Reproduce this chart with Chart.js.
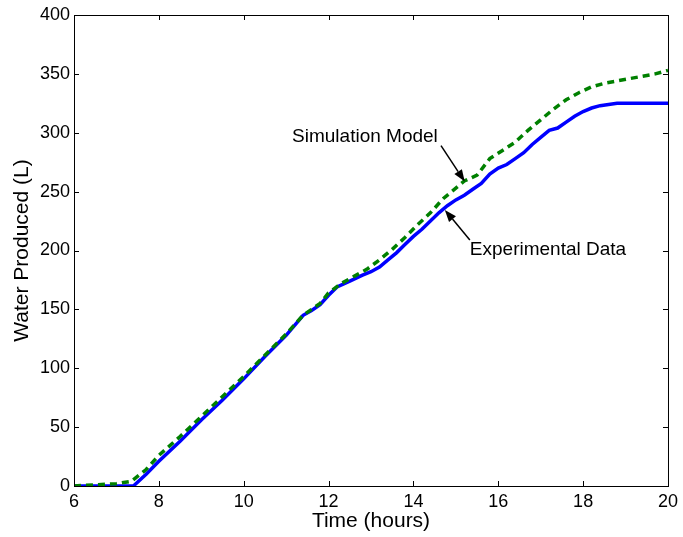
<!DOCTYPE html>
<html>
<head>
<meta charset="utf-8">
<script src="https://cdn.jsdelivr.net/npm/chart.js@4.4.1/dist/chart.umd.min.js"></script>
<style>
html,body{margin:0;padding:0;background:#fff;}
#wrap{width:683px;height:537px;}
</style>
</head>
<body>
<div id="wrap"><canvas id="waterChart" width="683" height="537"></canvas></div>
<script>
// experimental measurements (hours, litres)
const expTime = [6, 7.4, 7.7, 8, 8.5, 9, 9.5, 10, 10.5, 11, 11.4, 11.6, 11.8, 12, 12.2, 12.5, 12.8, 13, 13.2, 13.4, 13.6, 13.8, 14, 14.2, 14.4, 14.6, 14.8, 15, 15.2, 15.4, 15.6, 15.8, 16, 16.2, 16.4, 16.6, 16.8, 17, 17.2, 17.4, 17.6, 17.8, 18, 18.2, 18.4, 18.6, 18.8, 19, 19.5, 20];
const expWater = [0, 0, 10, 21, 38, 56, 73, 91, 110, 128, 145, 149, 154, 162, 169, 174, 179, 182, 186, 192, 198, 205, 212, 218, 225, 232, 238, 243, 247, 252, 257, 265, 270, 273, 278, 283, 290, 296, 302, 304, 309, 314, 318, 321, 323, 324, 325, 325, 325, 325];

// simulation model
const simTime = [6, 6.5, 7, 7.35, 7.7, 8, 8.5, 9, 9.5, 10, 10.5, 11, 11.4, 11.8, 12, 12.3, 12.6, 12.9, 13.2, 13.5, 13.8, 14.1, 14.4, 14.7, 15, 15.2, 15.5, 15.8, 16.1, 16.4, 16.7, 17, 17.3, 17.6, 17.9, 18.2, 18.5, 18.8, 19.1, 19.4, 19.7, 20];
const simWater = [0, 1, 2, 4, 14, 26, 42, 59, 76, 93, 111, 129, 145, 155, 164, 172, 178, 184, 192, 201, 211, 222, 232, 244, 253, 259, 264, 278, 285, 292, 302, 311, 320, 328, 334, 339, 342, 344, 346, 348, 350, 353];

const xTicks = [6, 8, 10, 12, 14, 16, 18, 20];
const yTicks = [0, 50, 100, 150, 200, 250, 300, 350, 400];

// annotation labels and arrows in data units
const notes = [
    {text: "Simulation Model", x: 11.14, y: 297, from: [14.65, 289], to: [15.21, 258.5]},
    {text: "Experimental Data", x: 15.33, y: 200.4, from: [15.33, 209], to: [14.74, 234.5]}
];

function toPoints(xs, ys){
    return xs.map((x, i) => ({x: x, y: ys[i]}));
}

const fontName = "'Liberation Sans', Arial, Helvetica, sans-serif";

const boxPlugin = {
    id: "box",
    afterDraw(chart){
        const ctx = chart.ctx;
        const a = chart.chartArea;
        const xs = chart.scales.x;
        const ys = chart.scales.y;
        ctx.save();
        ctx.strokeStyle = "#000";
        ctx.lineWidth = 1;
        ctx.strokeRect(a.left + 0.5, a.top + 0.5, a.right - a.left, a.bottom - a.top);
        ctx.beginPath();
        xTicks.forEach(t => {
            const px = Math.round(xs.getPixelForValue(t)) + 0.5;
            ctx.moveTo(px, a.bottom); ctx.lineTo(px, a.bottom - 5);
            ctx.moveTo(px, a.top); ctx.lineTo(px, a.top + 5);
        });
        yTicks.forEach(t => {
            const py = Math.round(ys.getPixelForValue(t)) + 0.5;
            ctx.moveTo(a.left, py); ctx.lineTo(a.left + 5, py);
            ctx.moveTo(a.right, py); ctx.lineTo(a.right - 5, py);
        });
        ctx.stroke();

        ctx.fillStyle = "#000";
        ctx.font = "19px " + fontName;
        ctx.textBaseline = "middle";
        ctx.textAlign = "left";
        notes.forEach(n => {
            ctx.fillText(n.text, xs.getPixelForValue(n.x), ys.getPixelForValue(n.y));
            const x1 = xs.getPixelForValue(n.from[0]), y1 = ys.getPixelForValue(n.from[1]);
            const x2 = xs.getPixelForValue(n.to[0]), y2 = ys.getPixelForValue(n.to[1]);
            const ang = Math.atan2(y2 - y1, x2 - x1);
            const hl = 12, hw = 4.5;
            ctx.lineWidth = 1.5;
            ctx.beginPath();
            ctx.moveTo(x1, y1);
            ctx.lineTo(x2 - hl * Math.cos(ang), y2 - hl * Math.sin(ang));
            ctx.stroke();
            ctx.beginPath();
            ctx.moveTo(x2, y2);
            ctx.lineTo(x2 - hl * Math.cos(ang) + hw * Math.sin(ang), y2 - hl * Math.sin(ang) - hw * Math.cos(ang));
            ctx.lineTo(x2 - hl * Math.cos(ang) - hw * Math.sin(ang), y2 - hl * Math.sin(ang) + hw * Math.cos(ang));
            ctx.closePath();
            ctx.fill();
        });
        ctx.restore();
    }
};

new Chart(document.getElementById("waterChart"), {
    type: "line",
    data: {
        datasets: [
            {
                label: "Experimental Data",
                data: toPoints(expTime, expWater),
                borderColor: "rgb(0,0,255)",
                borderWidth: 3.5,
                pointRadius: 0,
                tension: 0,
                order: 1
            },
            {
                label: "Simulation Model",
                data: toPoints(simTime, simWater),
                borderColor: "rgb(0,128,0)",
                borderWidth: 3.5,
                borderDash: [7, 5],
                pointRadius: 0,
                tension: 0,
                order: 0
            }
        ]
    },
    options: {
        responsive: false,
        animation: false,
        events: [],
        layout: {padding: {top: 15, right: 12, left: 0, bottom: 0}},
        plugins: {legend: {display: false}, tooltip: {enabled: false}},
        scales: {
            x: {
                type: "linear",
                min: 6,
                max: 20,
                afterFit(s){ s.height = 51; },
                afterBuildTicks(s){ s.ticks = xTicks.map(v => ({value: v})); },
                grid: {display: false, drawTicks: false},
                border: {display: false},
                ticks: {color: "#000", padding: 5, maxRotation: 0, font: {size: 18, family: fontName}},
                title: {display: true, text: "Time (hours)", color: "#000", padding: {top: 0, bottom: 3}, font: {size: 21, family: fontName}}
            },
            y: {
                min: 0,
                max: 400,
                afterFit(s){ s.width = 74; },
                afterBuildTicks(s){ s.ticks = yTicks.map(v => ({value: v})); },
                grid: {display: false, drawTicks: false},
                border: {display: false},
                ticks: {color: "#000", padding: 4, font: {size: 18, family: fontName}},
                title: {display: true, text: "Water Produced (L)", color: "#000", padding: {top: 10, bottom: 0}, font: {size: 21, family: fontName}}
            }
        }
    },
    plugins: [boxPlugin]
});
</script>
</body>
</html>
